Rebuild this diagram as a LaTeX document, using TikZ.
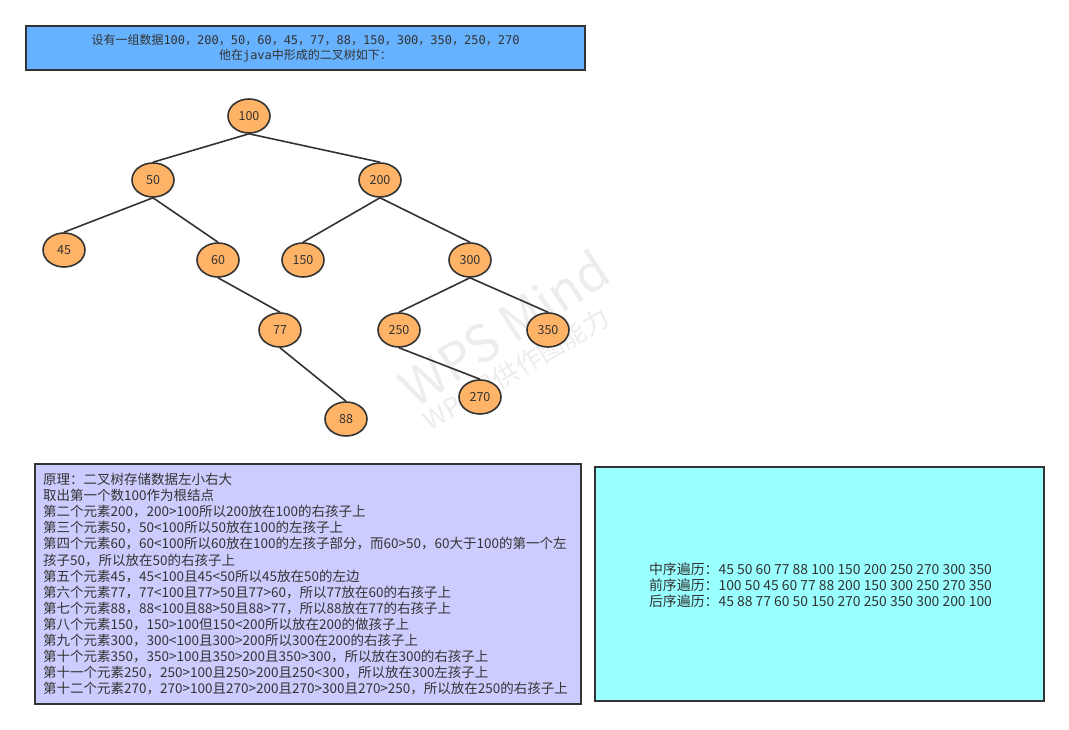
\documentclass[tikz,border=0pt]{standalone}
\usepackage{fontspec}
\setmainfont{Noto Sans CJK SC}
\newfontfamily\dmono{DejaVu Sans Mono}
\usetikzlibrary{shapes.geometric}
\definecolor{edgegray}{HTML}{333333}
\definecolor{textgray}{HTML}{333333}
\definecolor{nodeorange}{HTML}{FFB366}
\definecolor{topblue}{HTML}{66B2FF}
\definecolor{lavender}{HTML}{CCCCFF}
\definecolor{aqua}{HTML}{99FFFF}
\definecolor{wmgray}{HTML}{EDEDED}
\begin{document}
\begin{tikzpicture}[x=1pt,y=-1pt,
  treenode/.style={ellipse, draw=edgegray, line width=1.6pt, fill=nodeorange,
    minimum width=42pt, minimum height=34pt, inner sep=0pt,
    font=\fontsize{12.5}{14}\selectfont, text=textgray},
  treeedge/.style={draw=edgegray, line width=1.6pt},
  panel/.style={draw=edgegray, line width=2pt, inner sep=0pt},
  wm/.style={text=wmgray, inner sep=0pt}
]
\useasboundingbox[fill=white] (0,0) rectangle (1069,730);

% watermark
\node[wm, rotate=33, font=\fontsize{51}{51}\selectfont] (wm1) at (504,328) {WPS Mind};
\node[wm, rotate=31, font=\fontsize{26}{26}\selectfont] (wm2) at (516,369) {WPS提供作图能力};

% title box
\node[panel, fill=topblue, minimum width=559pt, minimum height=44pt, text=textgray,
  align=center, font=\fontsize{12}{15}\selectfont] (title) at (305.5,48)
  {设有一组数据{\dmono 100}，{\dmono 200}，{\dmono 50}，{\dmono 60}，{\dmono 45}，{\dmono 77}，{\dmono 88}，{\dmono 150}，{\dmono 300}，{\dmono 350}，{\dmono 250}，{\dmono 270}\\
   他在{\dmono java}中形成的二叉树如下：};

% tree nodes
\node[treenode] (n100) at (249,116) {100};
\node[treenode] (n50)  at (153,180) {50};
\node[treenode] (n200) at (380,180) {200};
\node[treenode] (n45)  at (64,250)  {45};
\node[treenode] (n60)  at (218,260) {60};
\node[treenode] (n150) at (303,260) {150};
\node[treenode] (n300) at (470,260) {300};
\node[treenode] (n77)  at (280,330) {77};
\node[treenode] (n250) at (399,330) {250};
\node[treenode] (n350) at (548,330) {350};
\node[treenode] (n270) at (480,397) {270};
\node[treenode] (n88)  at (346,419) {88};

% edges
\draw[treeedge] (n100.south) -- (n50.north);
\draw[treeedge] (n100.south) -- (n200.north);
\draw[treeedge] (n50.south) -- (n45.north);
\draw[treeedge] (n50.south) -- (n60.north);
\draw[treeedge] (n200.south) -- (n150.north);
\draw[treeedge] (n200.south) -- (n300.north);
\draw[treeedge] (n60.south) -- (n77.north);
\draw[treeedge] (n77.south) -- (n88.north);
\draw[treeedge] (n300.south) -- (n250.north);
\draw[treeedge] (n300.south) -- (n350.north);
\draw[treeedge] (n250.south) -- (n270.north);

% principle box
\node[panel, fill=lavender, minimum width=546pt, minimum height=240pt] (principle) at (308,584) {};
\node[anchor=north west, inner sep=0pt, align=left, text=textgray,
  font=\fontsize{13.5}{16.1}\selectfont] (principletext) at (43,473)
  {原理：二叉树存储数据左小右大\\
   取出第一个数100作为根结点\\
   第二个元素200，200>100所以200放在100的右孩子上\\
   第三个元素50，50<100所以50放在100的左孩子上\\
   第四个元素60，60<100所以60放在100的左孩子部分，而60>50，60大于100的第一个左\\
   孩子50，所以放在50的右孩子上\\
   第五个元素45，45<100且45<50所以45放在50的左边\\
   第六个元素77，77<100且77>50且77>60，所以77放在60的右孩子上\\
   第七个元素88，88<100且88>50且88>77，所以88放在77的右孩子上\\
   第八个元素150，150>100但150<200所以放在200的做孩子上\\
   第九个元素300，300<100且300>200所以300在200的右孩子上\\
   第十个元素350，350>100且350>200且350>300，所以放在300的右孩子上\\
   第十一个元素250，250>100且250>200且250<300，所以放在300左孩子上\\
   第十二个元素270，270>100且270>200且270>300且270>250，所以放在250的右孩子上};

% traversal box
\node[panel, fill=aqua, minimum width=449pt, minimum height=234pt] (traversal) at (819.5,584) {};
\node[inner sep=0pt, align=left, text=textgray,
  font=\fontsize{13.9}{16}\selectfont] (traversaltext) at (820.5,585)
  {中序遍历：45 50 60 77 88 100 150 200 250 270 300 350\\
   前序遍历：100 50 45 60 77 88 200 150 300 250 270 350\\
   后序遍历：45 88 77 60 50 150 270 250 350 300 200 100};
\end{tikzpicture}
\end{document}
